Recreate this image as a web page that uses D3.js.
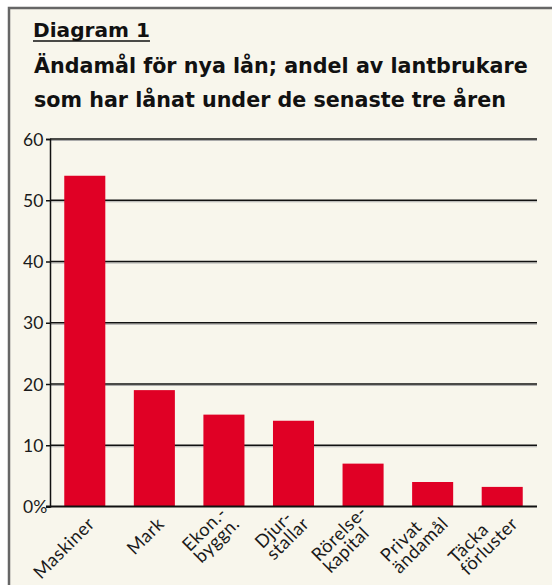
<!DOCTYPE html>
<html>
<head>
<meta charset="utf-8">
<script src="https://cdn.jsdelivr.net/npm/d3@7"></script>
<style>
  html, body { margin: 0; padding: 0; background: #ffffff; }
  svg { display: block; }
</style>
</head>
<body>
<script>
const categories = [["Maskiner"], ["Mark"], ["Ekon.-", "byggn."], ["Djur-", "stallar"], ["Rörelse-", "kapital"], ["Privat", "ändamål"], ["Täcka", "förluster"]];
const values = [54, 19, 15, 14, 7, 4, 3.2];
const yTicks = [0, 10, 20, 30, 40, 50, 60];
const titleLines = ["Ändamål för nya lån; andel av lantbrukare", "som har lånat under de senaste tre åren"];
const heading = "Diagram 1";

const W = 552, H = 585;
const svg = d3.select("body").append("svg").attr("width", W).attr("height", H);

// frame
svg.append("rect").attr("x", 9).attr("y", 8).attr("width", W).attr("height", H)
  .attr("fill", "#f8f6ec").attr("stroke", "#666").attr("stroke-width", 2.5);

const titleFont = "'DejaVu Sans', 'Open Sans', sans-serif";
function fitText(sel, target) {
  const w = sel.node().getComputedTextLength();
  const fs = +sel.attr("font-size");
  sel.attr("font-size", fs * target / w);
}
const h = svg.append("text").attr("x", 33).attr("y", 37)
  .attr("font-family", titleFont).attr("font-weight", 700).attr("font-size", 19)
  .attr("fill", "#111").text(heading);
fitText(h, 117);
const hw = h.node().getComputedTextLength();
svg.append("line").attr("x1", 33).attr("x2", 33 + hw).attr("y1", 41).attr("y2", 41)
  .attr("stroke", "#111").attr("stroke-width", 1.6);

const tl = titleLines.map((t, i) => svg.append("text").attr("x", 34).attr("y", 73 + i * 34)
    .attr("font-family", titleFont).attr("font-weight", 700).attr("font-size", 19)
    .attr("fill", "#111").text(t));
fitText(tl[0], 494);
tl[1].attr("font-size", tl[0].attr("font-size"));

const x = d3.scaleBand().domain(d3.range(categories.length)).range([50, 537])
  .paddingInner(0.41).paddingOuter(0.205);
const y = d3.scaleLinear().domain([0, 60]).range([506.5, 139]);

const tickFont = "'Lato', 'Noto Sans', sans-serif";

// gridlines with shadow
const g = svg.append("g");
g.selectAll("line.shadow").data(yTicks.slice(1)).join("line")
  .attr("x1", 50).attr("x2", 537).attr("y1", d => y(d) + 1.5).attr("y2", d => y(d) + 1.5)
  .attr("stroke", "#aaa").attr("stroke-width", 1);
g.selectAll("line.grid").data(yTicks.slice(1)).join("line")
  .attr("x1", 50).attr("x2", 537).attr("y1", d => y(d)).attr("y2", d => y(d))
  .attr("stroke", "#111").attr("stroke-width", 1.5);

// bars
svg.selectAll("rect.bar").data(values).join("rect").attr("class", "bar")
  .attr("x", (d, i) => x(i)).attr("width", x.bandwidth())
  .attr("y", d => y(d)).attr("height", d => y(0) - y(d))
  .attr("fill", "#e00025");

// y axis
const yAxis = d3.axisLeft(y).tickValues(yTicks).tickSize(4).tickFormat(d => d === 0 ? "0%" : d);
const ya = svg.append("g").attr("transform", "translate(50,0)").call(yAxis);
ya.select(".domain").attr("stroke", "#111").attr("stroke-width", 1.5);
ya.selectAll(".tick line").attr("stroke", "#111").attr("stroke-width", 1.5);
ya.selectAll(".tick text").attr("font-family", tickFont).attr("font-size", 17.5)
  .attr("font-weight", 400).attr("fill", "#1a1a1a")
  .attr("text-anchor", "start").attr("x", -27).attr("dy", "0.35em");

// x axis line
svg.append("line").attr("x1", 46).attr("x2", 537).attr("y1", y(0)).attr("y2", y(0))
  .attr("stroke", "#111").attr("stroke-width", 1.8);

// category labels: left-aligned lines, block right edge + vertical middle at anchor
const lab = svg.append("g");
const probe = lab.append("text").attr("font-family", tickFont).attr("font-size", 17)
  .attr("letter-spacing", 0.5).attr("font-weight", 400).text(categories[0][0]);
fitText(probe, 78);
const labelSize = +probe.attr("font-size");
probe.remove();
const lineH = 16.5;
categories.forEach((c, i) => {
  const n = c.length;
  const cx = x(i) + x.bandwidth() / 2 + 11;
  const cy = 525 - 6 * (n - 1);
  const grp = lab.append("g").attr("transform", `translate(${cx},${cy}) rotate(-45)`);
  const t = grp.append("text")
    .attr("font-family", tickFont).attr("font-size", labelSize)
    .attr("letter-spacing", 0.5).attr("font-weight", 400).attr("fill", "#1a1a1a");
  const spans = c.map((line, j) => t.append("tspan").attr("x", 0)
    .attr("y", (j - (n - 1) / 2) * lineH).text(line));
  const maxW = d3.max(spans, s => s.node().getComputedTextLength());
  spans.forEach(s => s.attr("x", -maxW));
});
</script>
</body>
</html>
